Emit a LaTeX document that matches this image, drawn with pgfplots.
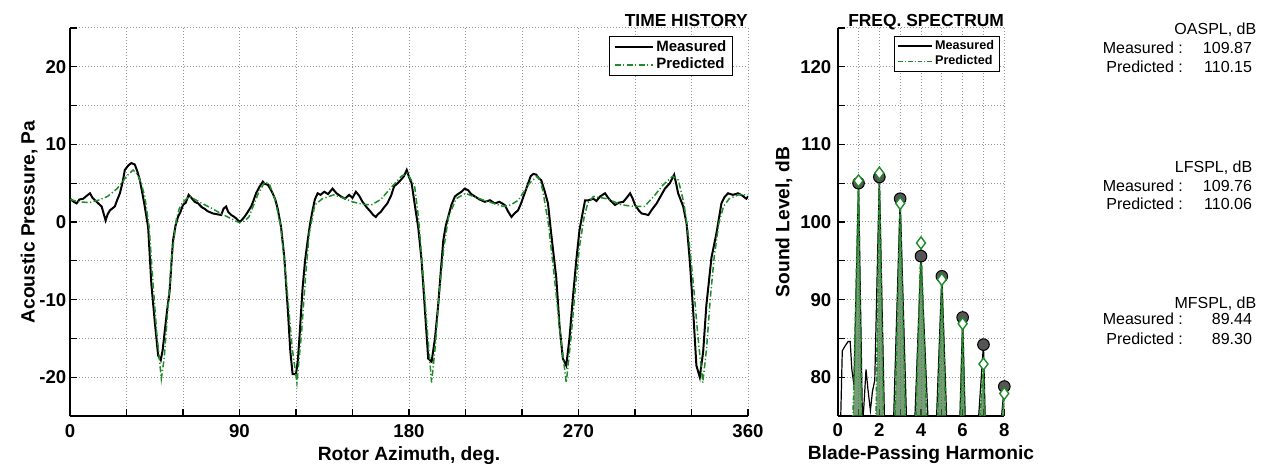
\documentclass[border=0pt]{standalone}
\usepackage{pgfplots}
\pgfplotsset{compat=1.18}
\usepackage{fontspec}
\setmainfont{Liberation Sans}
\definecolor{predgreen}{RGB}{30,140,40}
\definecolor{gridgray}{RGB}{150,150,150}
\definecolor{markgray}{RGB}{85,85,85}
\definecolor{spikefill}{RGB}{60,115,60}

\pgfplotsset{
 common/.style={
  scale only axis, anchor=south west,
  axis x line*=bottom, axis y line*=left,
  axis line style={black, line width=0.8bp},
  tick align=inside, major tick length=3.5bp, minor tick length=3.5bp,
  every tick/.style={black, line width=0.6bp},
  grid=both,
  major grid style={gridgray, line width=0.5bp, dash pattern=on 0.6bp off 0.9bp},
  minor grid style={gridgray, line width=0.5bp, dash pattern=on 0.6bp off 0.9bp},
  /pgf/number format/assume math mode=true,
  ticklabel style={font=\fontsize{9.3bp}{10bp}\selectfont\bfseries},
  label style={font=\fontsize{9.6bp}{11bp}\selectfont\bfseries},
  xticklabel style={anchor=base, yshift=-10.5bp, inner sep=0pt},
  xlabel style={at={(axis description cs:0.5,0)}, anchor=base, yshift=-22bp, inner sep=0pt},
  ylabel style={anchor=base, inner sep=0pt},
  every axis title/.style={at={(rel axis cs:1,1)}, anchor=base east, yshift=0.8bp, inner sep=0pt, font=\fontsize{8.7bp}{10bp}\selectfont\bfseries},
  clip mode=individual,
  legend cell align=left,
 },
 meas/.style={black, line width=1bp},
 pred/.style={predgreen, line width=0.75bp, dash pattern=on 3bp off 1.2bp on 0.6bp off 1.2bp},
}

\begin{document}
\begin{tikzpicture}
\useasboundingbox (0,0) rectangle (632.5bp,232bp);

% ---------------- TIME HISTORY ----------------
\begin{axis}[common,
  at={(35bp,24bp)}, width=339bp, height=194bp,
  xmin=0, xmax=360, ymin=-25, ymax=25,
  xtick={0,90,180,270,360},
  minor xtick={30,60,120,150,210,240,300,330},
  ytick={-20,-10,0,10,20},
  minor ytick={-25,-15,-5,5,15,25},
  yticklabel style={anchor=east, inner sep=0pt, xshift=-1.7bp},
  xlabel={Rotor Azimuth, deg.},
  ylabel={Acoustic Pressure, Pa},
  ylabel style={at={(axis description cs:-0.052,0.5)}},
  title={TIME HISTORY},
  legend image code/.code={\draw[#1] (0bp,0bp) -- (19bp,0bp);},
  legend style={at={(rel axis cs:1,1)}, anchor=north east, xshift=-7.3bp, yshift=-3.9bp,
    draw=black, line width=0.5bp, fill=white,
    font=\fontsize{7.5bp}{8bp}\selectfont\bfseries,
    inner xsep=2bp, inner ysep=1.2bp, row sep=0.3bp,
    nodes={inner xsep=1.3bp, inner ysep=0.8bp}},
]
\addplot[meas] coordinates {
(0,3.0) (2,2.6) (3.5,2.4) (5,2.9) (7,3.0) (9,3.4) (10.6,3.7) (12,3.1) (14.1,2.6)
(16.8,2.0) (18.9,0.2) (20,1.0) (21.2,1.5) (23.8,2.0) (25,2.8) (26.5,3.7) (28,5.2)
(29.1,6.7) (31,7.3) (32.6,7.6) (34.4,7.4) (35.8,6.5) (37.1,5.4) (38.5,3.6) (39.7,2.0)
(41.5,-0.7) (43.2,-8.0) (45.0,-12.8) (46.8,-17.2) (48.2,-17.8) (49.2,-16.5) (50.3,-14.1)
(51.5,-11.5) (52.9,-8.9) (53.8,-5.5) (54.7,-2.4) (56,-0.5) (57.4,0.7) (58.5,1.2)
(60.0,2.2) (61.5,2.5) (63.0,3.5) (64.5,3.1) (66.2,2.6) (68,2.4) (70,1.9) (71.5,1.7)
(73,1.4) (75.9,1.1) (78,1.0) (80.3,0.9) (81.5,1.7) (82.9,2.0) (84,1.3) (85.6,0.9)
(87,0.7) (88.5,0.4) (90,0.0) (91,0.2) (92.6,0.65) (94.4,1.3) (96.2,2.0) (97.5,2.8)
(98.8,3.7) (100.5,4.5) (102.4,5.2) (103.5,4.9) (105,4.8) (106.3,4.3) (107.6,3.7)
(109,2.9) (110.3,1.7) (112.1,-0.7) (113.8,-4.6) (115.6,-11.1) (117,-16.7) (118.2,-19.6)
(120,-19.6) (121,-17.8) (121.8,-15.0) (123.5,-8.5) (124.8,-5.0) (126.2,-2.4)
(127.5,-0.2) (128.8,1.5) (130,2.9) (131.5,3.7) (133,3.5) (135,3.9) (137,3.6)
(139.4,4.3) (141.5,3.7) (143.8,3.3) (146,3.0) (148.2,3.5) (150,3.1) (151.8,3.9)
(153.5,3.4) (155.3,2.6) (157.5,1.9) (159.7,1.3) (161,0.9) (162.4,0.65) (163.5,1.0)
(165,1.3) (166.5,1.8) (168.5,2.4) (170.5,3.4) (172.1,4.6) (174,5.0) (175.6,5.4)
(177.3,5.9) (178.8,6.7) (180,5.8) (181.4,5.0) (183.2,2.0) (184.9,-0.7) (186.7,-5.0)
(188.5,-11.5) (190.2,-17.6) (192,-18.0) (193.8,-15.0) (195.5,-10.7) (197,-6.0)
(198.2,-2.4) (199.5,-0.5) (200.8,0.65) (202.5,2.2) (204.4,3.3) (206,3.6) (207.9,3.9)
(209.5,4.3) (211.4,4.1) (213,3.6) (214.9,3.3) (217.5,2.9) (220.2,2.6) (223,2.8)
(225.5,2.4) (228,2.6) (230.8,2.2) (232.5,1.4) (234.4,0.65) (236,1.1) (237.9,1.5)
(239.5,2.4) (241.4,3.7) (243,4.8) (244.6,5.9) (246,6.2) (247.6,6.1) (249,5.6)
(250.2,5.4) (252,4.0) (253.8,2.4) (255.5,-1.5) (258.2,-7.2) (259.9,-13.3)
(261.7,-17.6) (263.5,-18.5) (265.2,-15.0) (267,-9.8) (268.8,-5.0) (270.5,-1.1)
(271.8,0.65) (273.5,2.8) (275.3,2.8) (277.9,3.0) (279.5,2.7) (281.5,3.3) (284.1,3.7)
(285.5,3.2) (286.8,2.8) (289.4,2.2) (291.5,2.5) (293.8,2.6) (295.5,3.1) (297.4,3.7)
(298.8,3.0) (300,2.2) (302,1.5) (303.5,1.1) (305.5,1.0) (307.1,0.9) (309,1.6)
(311.5,2.4) (313.8,3.4) (315.9,4.3) (318.5,5.0) (320.8,6.1) (321.8,5.0) (322.9,3.7)
(325.6,2.0) (327.4,-0.2) (329.1,-5.0) (330.9,-11.5) (332.6,-18.5) (334.4,-20.0)
(336.2,-16.7) (337.9,-10.7) (340.6,-4.6) (343.2,-1.5) (345.9,2.4) (347.5,3.2)
(349.4,3.7) (352,3.5) (354.7,3.7) (357,3.4) (359.1,3.0) (360,3.3)
};
\addlegendentry{Measured}
\addplot[pred] coordinates {
(0,2.9) (5,2.6) (10,2.5) (15,2.8) (20,3.3) (25,4.3) (28,5.2) (30,5.9) (33.5,6.7)
(36,6.1) (38,4.8) (39.7,3.3) (42,-0.6) (44,-7.6) (46,-14.1) (48.5,-20.2) (50,-17.6)
(52,-11.1) (54,-4.6) (56.5,0.4) (58,1.7) (60,2.6) (63.5,3.3) (70,2.4) (75,1.8)
(80,1.1) (85,0.5) (90,-0.1) (92.5,0.1) (95,0.65) (97.5,2.2) (100,3.7) (103.5,5.2)
(106,4.8) (109,2.8) (112,-0.7) (115,-8.0) (118,-16.3) (120.5,-20.7) (123,-14.1)
(125,-7.2) (127,-1.5) (130,2.2) (134,3.0) (140,3.5) (145,3.1) (150,2.6) (155,2.3)
(160,2.2) (165,2.9) (170,4.3) (176,5.9) (179,6.3) (181,5.5) (183,4.6) (185,0.65)
(187,-5.4) (189.5,-13.3) (192,-20.7) (194,-15.9) (196,-9.3) (198.5,-3.3) (201,0.65)
(205,3.0) (210,3.7) (215,3.2) (220,2.8) (225,2.4) (230,2.0) (234,2.2) (238,2.8)
(241,3.9) (244,5.0) (248,5.9) (249.5,5.4) (251,4.1) (254,-0.2) (257,-6.7) (260,-13.7)
(263.5,-20.7) (266,-15.0) (268.5,-8.0) (270.5,-3.2) (273,0.65) (275,2.5) (278,3.3)
(285,3.0) (293,2.2) (300,2.0) (305,2.0) (310,3.3) (315,4.8) (320,5.9) (323,5.4)
(326,2.4) (328.5,-2.0) (331,-8.0) (333.5,-15.0) (336,-20.7) (338,-16.3) (340,-9.8)
(342,-4.6) (344.5,-0.2) (347,2.0) (350,3.0) (355,3.5) (360,3.5)
};
\addlegendentry{Predicted}
\end{axis}

% ---------------- FREQ. SPECTRUM ----------------
\begin{axis}[common,
  at={(418.85bp,24bp)}, width=83.3bp, height=194bp,
  xmin=0, xmax=8, ymin=75, ymax=125,
  xtick={0,2,4,6,8}, minor xtick={1,3,5,7},
  ytick={80,90,100,110,120}, minor ytick={75,85,95,105,115,125},
  yticklabel style={anchor=east, inner sep=0pt, xshift=-3bp},
  xlabel={Blade-Passing Harmonic},
  ylabel={Sound Level, dB},
  ylabel style={at={(axis description cs:-0.29,0.5)}},
  title={FREQ. SPECTRUM},
  legend image code/.code={\draw[#1, fill=none] (0bp,0bp) -- (17bp,0bp);},
  legend style={at={(rel axis cs:1,1)}, anchor=north east, xshift=-2.2bp, yshift=-3.9bp,
    draw=black, line width=0.5bp, fill=white,
    font=\fontsize{6.3bp}{7bp}\selectfont\bfseries,
    inner xsep=1.5bp, inner ysep=1bp, row sep=0.2bp,
    nodes={inner xsep=1.2bp, inner ysep=0.8bp}},
]
\addplot[black, line width=0.6bp] coordinates {
(0.12,72) (0.22,83.4) (0.35,84.0) (0.5,84.6) (0.6,84.6) (0.68,81) (0.78,79.0)
(1.0,105.0) (1.19,74) (1.25,76) (1.36,81.0) (1.45,78.5) (1.57,75.7) (1.67,78.2)
(1.78,79.6) (2.0,105.8) (2.25,74) (2.28,72) (2.66,72) (2.69,75) (3.0,103.0)
(3.3,75) (3.33,72) (3.68,72) (3.71,75) (4.0,95.6) (4.33,75) (4.36,72) (4.72,72)
(4.75,75) (5.0,93.0) (5.23,75) (5.26,72) (5.84,72) (5.87,75) (6.0,87.7) (6.12,75)
(6.15,72) (6.74,72) (6.77,75) (7.0,84.2) (7.08,75) (7.1,72) (7.85,72) (7.87,75)
(8.0,78.8) (8.1,75) (8.12,72)
};
\addlegendentry{Measured}
\addplot[predgreen, line width=0.8bp, dash pattern=on 2.4bp off 1bp on 0.5bp off 1bp,
  fill=spikefill, fill opacity=0.7] coordinates {
(0.7,72) (0.78,79) (1.0,105.3) (1.16,72) (1.8,72) (1.85,76) (2.0,106.3) (2.22,72)
(2.72,72) (2.75,75) (3.0,102.4) (3.25,75) (3.28,72) (3.74,72) (3.76,75) (4.0,97.3)
(4.27,75) (4.3,72) (4.78,72) (4.8,75) (5.0,92.6) (5.19,75) (5.21,72) (5.86,72)
(5.89,75) (6.0,86.9) (6.1,75) (6.12,72) (6.8,72) (6.83,75) (7.0,81.7) (7.06,75)
(7.08,72) (7.89,72) (7.91,75) (8.0,77.9) (8.07,75) (8.09,72)
};
\addlegendentry{Predicted}
\addplot[only marks, mark=*, mark size=2.9bp, mark options={fill=markgray, draw=black, line width=0.5bp}, forget plot] coordinates {
(1,105.0) (2,105.8) (3,103.0) (4,95.6) (5,93.0) (6,87.7) (7,84.2) (8,78.8)
};
\addplot[only marks, mark=diamond*, mark size=3bp, mark options={fill=white, draw=predgreen, line width=0.7bp}, forget plot] coordinates {
(1,105.3) (2,106.3) (3,102.4) (4,97.3) (5,92.6) (6,86.9) (7,81.7) (8,77.9)
};
\end{axis}

% ---------------- Summary text ----------------
\begin{scope}[every node/.style={inner sep=0pt, font=\fontsize{8bp}{9bp}\selectfont}]
\node[anchor=base east] at (628.35bp,214.85bp) {OASPL, dB};
\node[anchor=base east] at (591.65bp,205bp) {Measured :};
\node[anchor=base east] at (626.15bp,205bp) {109.87};
\node[anchor=base east] at (591.65bp,195.65bp) {Predicted :};
\node[anchor=base east] at (626.15bp,195.65bp) {110.15};

\node[anchor=base east] at (626.35bp,145.65bp) {LFSPL, dB};
\node[anchor=base east] at (591.65bp,136.15bp) {Measured :};
\node[anchor=base east] at (626.15bp,136.15bp) {109.76};
\node[anchor=base east] at (591.65bp,127bp) {Predicted :};
\node[anchor=base east] at (626.15bp,127bp) {110.06};

\node[anchor=base east] at (628.35bp,77.85bp) {MFSPL, dB};
\node[anchor=base east] at (591.65bp,69.5bp) {Measured :};
\node[anchor=base east] at (626.15bp,69.5bp) {89.44};
\node[anchor=base east] at (591.65bp,59.85bp) {Predicted :};
\node[anchor=base east] at (626.15bp,59.85bp) {89.30};
\end{scope}
\end{tikzpicture}
\end{document}
